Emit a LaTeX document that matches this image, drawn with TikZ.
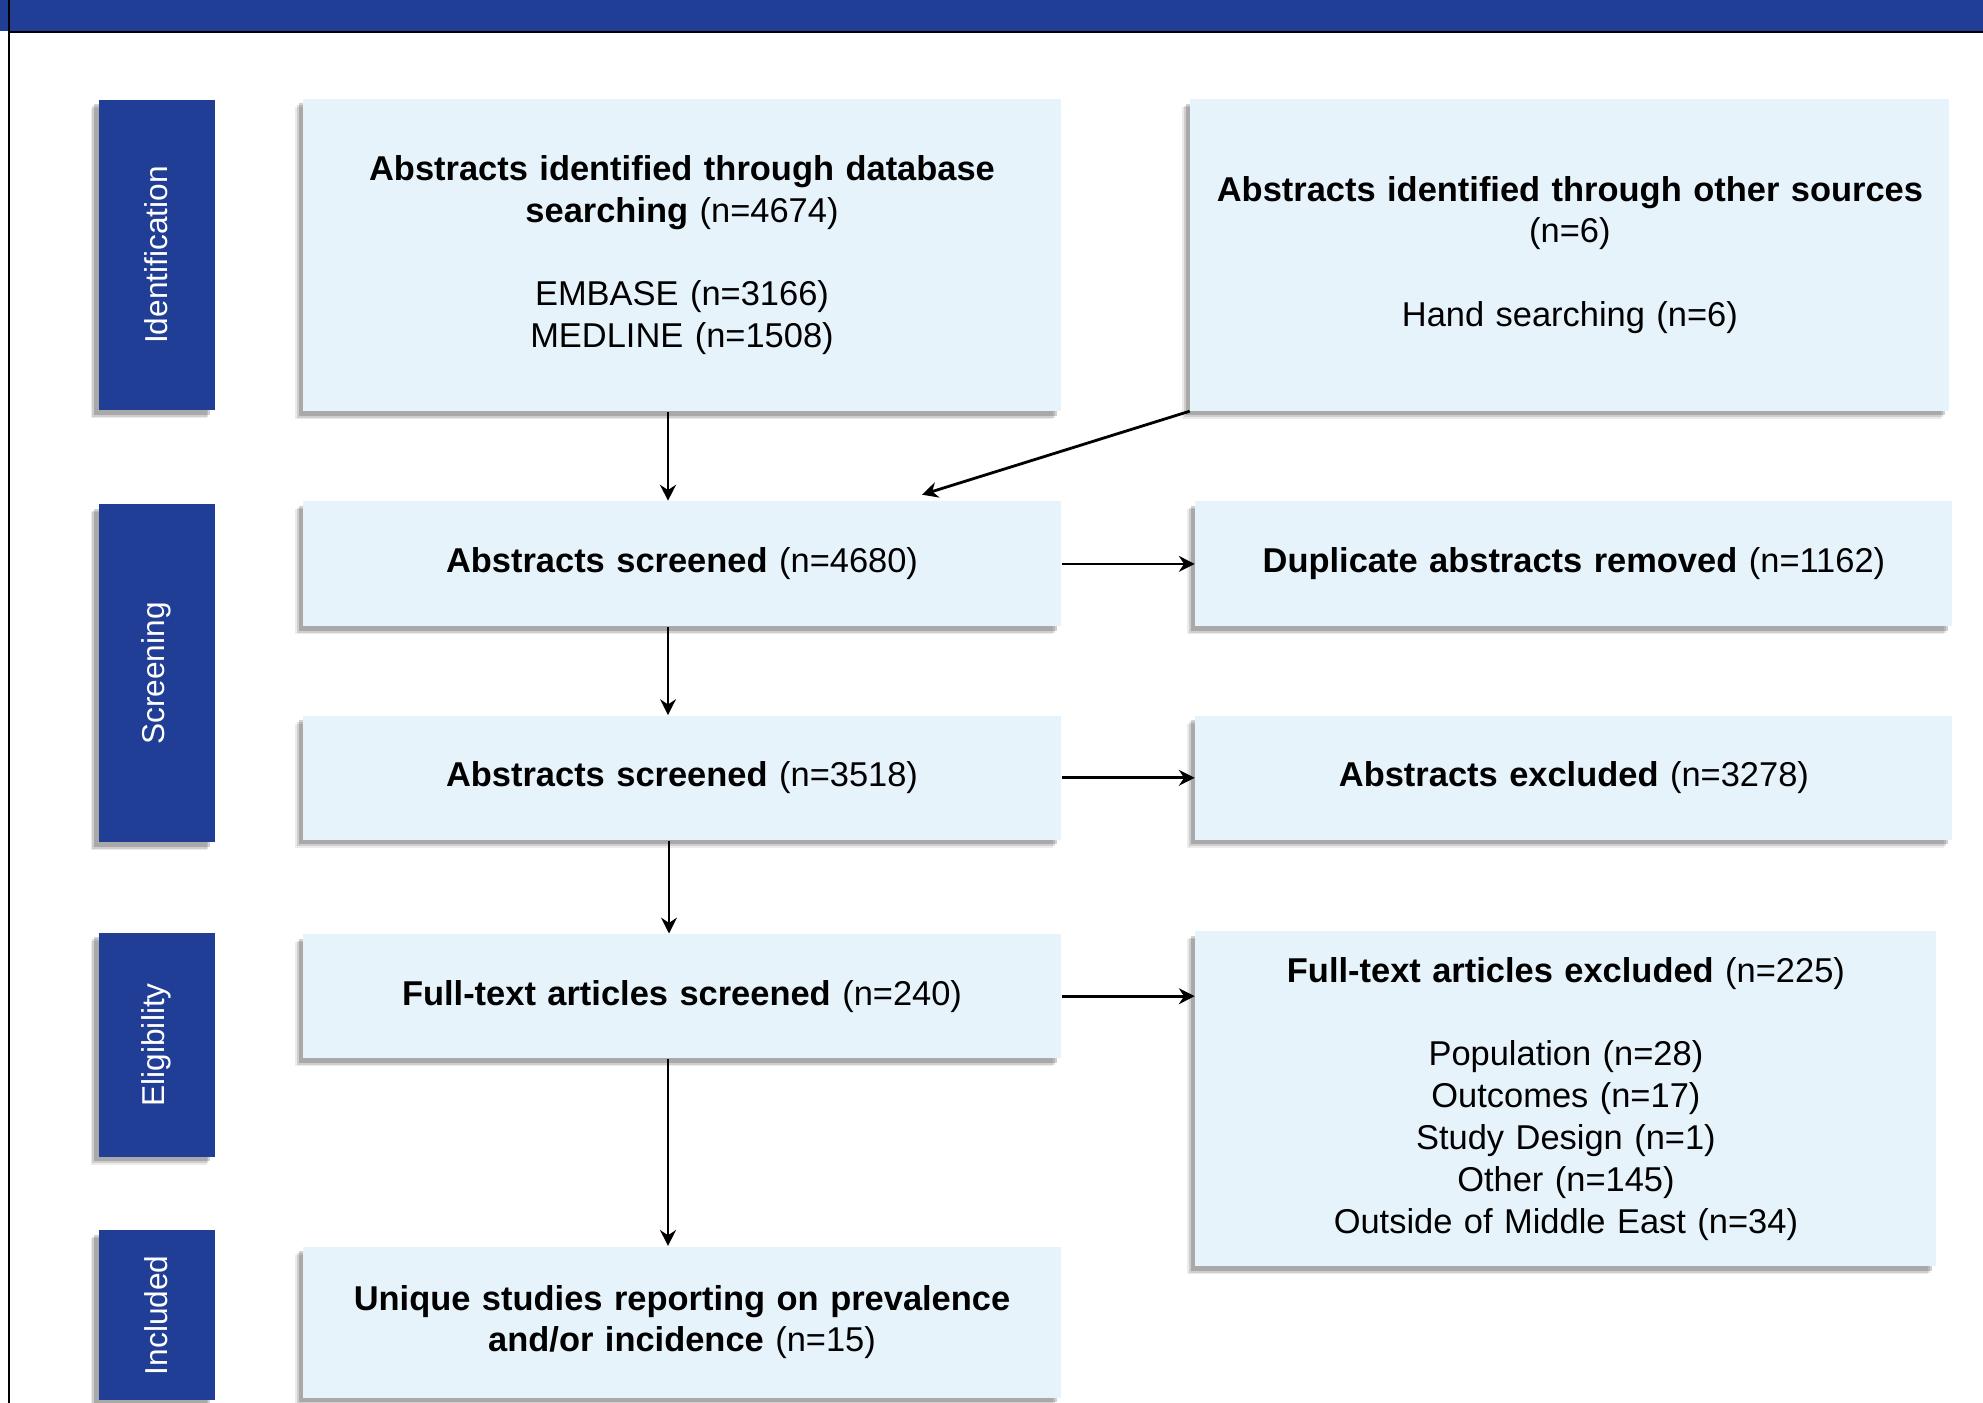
\documentclass[tikz,border=0pt]{standalone}
\usepackage{fontspec}
\setmainfont{Liberation Sans}
\usepackage{tikz}
\usetikzlibrary{arrows.meta, calc, positioning, shadows}
\definecolor{navy}{RGB}{32,62,150}
\definecolor{paleblue}{RGB}{231,243,251}
\tikzstyle{softshadow} = [drop shadow={shadow xshift=-0.08cm, shadow yshift=-0.08cm, fill=black, opacity=0.08}, drop shadow={shadow xshift=-0.065cm, shadow yshift=-0.065cm, fill=black, opacity=0.12}, drop shadow={shadow xshift=-0.045cm, shadow yshift=-0.045cm, fill=black, opacity=0.18}]
\tikzstyle{tab} = [rectangle, fill=navy, text=white, minimum width=1.16cm, inner sep=0pt, font=\fontsize{9}{11}\selectfont, softshadow]
\tikzstyle{box} = [rectangle, fill=paleblue, minimum width=7.58cm, text width=7.3cm, align=center, inner sep=0pt, font=\fontsize{9.8}{11.9}\selectfont, softshadow]
\tikzstyle{arrow} = [thick,-{Stealth[length=4.5pt,width=4.5pt]}]

\begin{document}
\begin{tikzpicture}[node distance = 10mm, auto]
	\useasboundingbox (0,0) rectangle (19.83,-14.03);
	\fill [navy] (0,0) rectangle (19.83,-0.31);
	\draw [line width=0.02cm] (0.09,0) -- (0.09,-14.03);
	\draw [line width=0.02cm] (0.09,-0.32) -- (19.83,-0.32);
	\node (DatabaseSearch) [box, minimum height=3.12cm] at (6.82,-2.55) {\textbf{Abstracts identified through database}\\ \textbf{searching} (n=4674)\\[\baselineskip] EMBASE (n=3166)\\ MEDLINE (n=1508)};
	\node (OtherSources) [box, minimum width=7.59cm, minimum height=3.11cm, right = 1.28cm of DatabaseSearch] {\textbf{Abstracts identified through other sources}\\ (n=6)\\[\baselineskip] Hand searching (n=6)};
	\node (ScreenedAll) [box, minimum height=1.25cm, below = 0.89cm of DatabaseSearch] {\textbf{Abstracts screened} (n=4680)};
	\node (DuplicatesRemoved) [box, minimum width=7.57cm, minimum height=1.25cm, right = 1.33cm of ScreenedAll] {\textbf{Duplicate abstracts removed} (n=1162)};
	\node (ScreenedUnique) [box, minimum height=1.24cm, below = 0.88cm of ScreenedAll] {\textbf{Abstracts screened} (n=3518)};
	\node (AbstractsExcluded) [box, minimum width=7.57cm, minimum height=1.24cm, right = 1.33cm of ScreenedUnique] {\textbf{Abstracts excluded} (n=3278)};
	\node (FullTextScreened) [box, minimum height=1.24cm, below = 0.93cm of ScreenedUnique] {\textbf{Full-text articles screened} (n=240)};
	\node (FullTextExcluded) [box, minimum width=7.41cm, minimum height=3.35cm, below right = -0.03cm and 1.33cm of FullTextScreened.north east] {\textbf{Full-text articles excluded} (n=225)\\[\baselineskip] Population (n=28)\\ Outcomes (n=17)\\ Study Design (n=1)\\ Other (n=145)\\ Outside of Middle East (n=34)};
	\node (IncludedStudies) [box, minimum height=1.51cm, below = 1.87cm of FullTextScreened] {\textbf{Unique studies reporting on prevalence}\\ \textbf{and/or incidence} (n=15)};
	\node (Identification) [tab, minimum height=3.10cm, left = 0.87cm of DatabaseSearch] {\rotatebox{90}{Identification}};
	\node (Screening) [tab, minimum height=3.38cm, below = 0.93cm of Identification] {\rotatebox{90}{Screening}};
	\node (Eligibility) [tab, minimum height=2.24cm, below = 0.89cm of Screening] {\rotatebox{90}{Eligibility}};
	\node (Included) [tab, minimum height=1.70cm, below = 0.72cm of Eligibility] {\rotatebox{90}{Included}};
	\coordinate (ScreenIn) at ($(ScreenedAll.north)+(2.40,0.06)$);
	\draw [arrow] ([xshift=-1.4mm]DatabaseSearch.south) -- ([xshift=-1.4mm]ScreenedAll.north);
	\draw [arrow] (OtherSources.south west) -- (ScreenIn);
	\draw [arrow] (ScreenedAll) -- (DuplicatesRemoved);
	\draw [arrow] ([xshift=-1.4mm]ScreenedAll.south) -- ([xshift=-1.4mm]ScreenedUnique.north);
	\draw [arrow] (ScreenedUnique) -- (AbstractsExcluded);
	\draw [arrow] ([xshift=-1.3mm]ScreenedUnique.south) -- ([xshift=-1.3mm]FullTextScreened.north);
	\draw [arrow] (FullTextScreened) -- (FullTextScreened -| FullTextExcluded.west);
	\draw [arrow] ([xshift=-1.4mm]FullTextScreened.south) -- ([xshift=-1.4mm]IncludedStudies.north);
\end{tikzpicture}
\end{document}
